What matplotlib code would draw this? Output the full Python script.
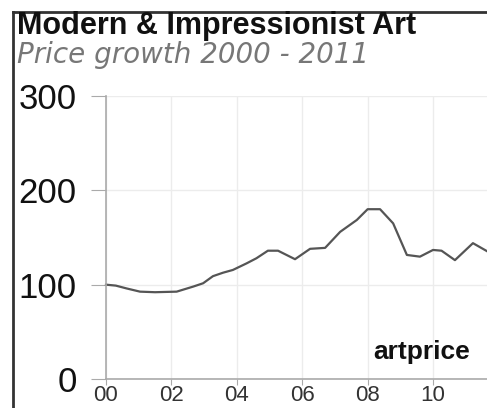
import matplotlib.pyplot as plt
from matplotlib.lines import Line2D

# price index (2000 = 100)
years = [2000.0, 2000.3, 2000.63, 2001.04, 2001.5, 2002.16, 2002.67, 2002.97,
         2003.27, 2003.58, 2003.88, 2004.3, 2004.6, 2004.95, 2005.26, 2005.78,
         2006.24, 2006.7, 2007.16, 2007.67, 2008.0, 2008.38, 2008.78, 2009.2,
         2009.6, 2010.0, 2010.26, 2010.67, 2011.22, 2011.64]
index = [100, 99, 96, 92.6, 92, 92.6, 98, 101.5,
         109, 112.7, 115.6, 122.6, 128, 136, 136, 127,
         138, 139, 156, 168.6, 180, 180, 165, 131.5,
         129.7, 136.8, 136, 126, 144, 135.7]

xticks = [2000, 2002, 2004, 2006, 2008, 2010]
xlabels = ['00', '02', '04', '06', '08', '10']
yticks = [0, 100, 200, 300]

title = 'Modern & Impressionist Art'
subtitle = 'Price growth 2000 - 2011'

plt.rcParams['font.family'] = ['Liberation Sans', 'DejaVu Sans']

fig = plt.figure(figsize=(4.87, 4.08), dpi=100)
ax = fig.add_axes([106 / 487, 1 - 379 / 408, (487 - 106) / 487, (379 - 96) / 408])

ax.plot(years, index, color='#555555', lw=1.6, clip_on=False)

ax.set_xlim(2000, 2011.65)
ax.set_ylim(0, 300)
ax.set_xticks(xticks)
ax.set_xticklabels(xlabels, fontsize=16, color='#333333')
ax.set_yticks(yticks)
ax.set_yticklabels([str(v) for v in yticks], fontsize=25, color='#111111')
ax.tick_params(axis='y', length=11, color='#aaaaaa', pad=10)
ax.tick_params(axis='x', length=4, color='#aaaaaa', pad=0)

ax.grid(True, color='#ececec', lw=1)
for side in ['top', 'right']:
    ax.spines[side].set_visible(False)
for side in ['left', 'bottom']:
    ax.spines[side].set_color('#aaaaaa')
    ax.spines[side].set_linewidth(1.2)

ax.text(0.955, 0.095, 'artprice', transform=ax.transAxes, ha='right', va='center',
        fontsize=19, fontweight='bold', color='#111111')

fig.text(17 / 487, 1 - 26 / 408, title, fontsize=22, fontweight='bold',
         va='center', ha='left', color='#111111')
fig.text(17 / 487, 1 - 55 / 408, subtitle, fontsize=20, style='italic',
         family='DejaVu Sans', va='center', ha='left', color='#777777')

# frame lines top and left
fig.add_artist(Line2D([13 / 487, 13 / 487], [0, 1 - 12 / 408],
                      transform=fig.transFigure, color='#333333', lw=2))
fig.add_artist(Line2D([13 / 487, 1], [1 - 12 / 408, 1 - 12 / 408],
                      transform=fig.transFigure, color='#333333', lw=2))

fig.savefig('out.png', dpi=100)
